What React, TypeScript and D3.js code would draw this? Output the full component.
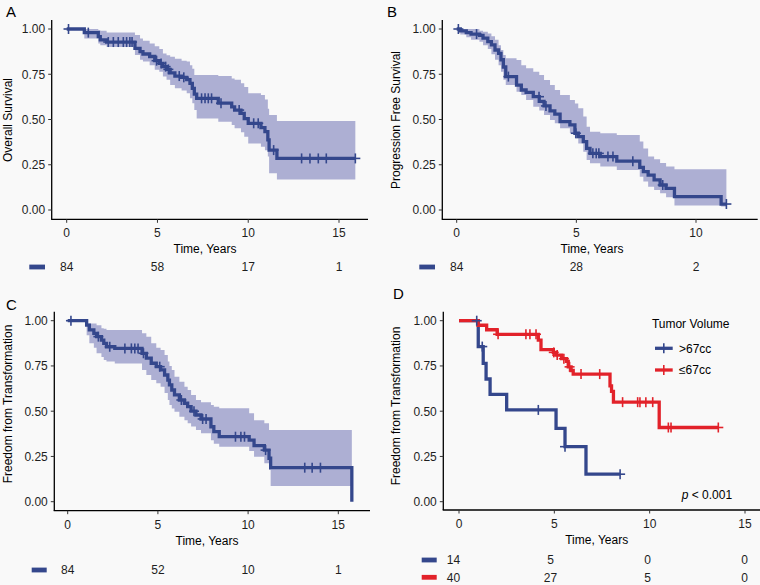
import React from "react";
import * as d3 from "d3";

const W = 760;
const H = 585;
const BLUE = "#34478c";
const BAND = "#adafd3";
const RED = "#e2222a";
const BG = "#f9f9f9";
const FONT = "'Liberation Sans', Arial, Helvetica, sans-serif";

// ---------- Panel A: Overall Survival ----------
const osTime = [0, 0.97, 1.74, 1.85, 2.2, 3.76, 4.04, 4.2, 4.57, 4.85, 5.1, 5.3, 5.5, 5.7, 5.96, 6.33, 6.61, 6.79, 6.92, 7.03, 7.16, 8.35, 9.09, 9.25, 9.6, 9.78, 10.0, 10.7, 10.92, 11.08, 11.15, 11.58];
const osSurv = [1, 0.98, 0.958, 0.94, 0.928, 0.893, 0.875, 0.862, 0.848, 0.825, 0.81, 0.792, 0.777, 0.758, 0.74, 0.733, 0.72, 0.7, 0.672, 0.64, 0.617, 0.59, 0.57, 0.552, 0.534, 0.505, 0.479, 0.455, 0.433, 0.387, 0.331, 0.285];
const osLower = [1, 0.948, 0.92, 0.91, 0.9, 0.856, 0.83, 0.82, 0.8, 0.775, 0.764, 0.737, 0.72, 0.69, 0.672, 0.66, 0.645, 0.617, 0.59, 0.552, 0.506, 0.488, 0.47, 0.451, 0.43, 0.405, 0.368, 0.35, 0.33, 0.295, 0.203, 0.168];
const osUpper = [1, 1, 0.995, 0.99, 0.98, 0.967, 0.948, 0.935, 0.92, 0.905, 0.89, 0.865, 0.855, 0.847, 0.835, 0.825, 0.82, 0.8, 0.78, 0.746, 0.746, 0.74, 0.727, 0.72, 0.7, 0.68, 0.645, 0.635, 0.61, 0.56, 0.525, 0.492];
const osCensor = [0.1, 1.19, 2.29, 2.57, 2.84, 3.12, 3.3, 3.48, 3.6, 4.95, 5.2, 5.45, 5.6, 6.2, 6.45, 7.43, 7.62, 7.8, 7.98, 8.5, 9.5, 10.3, 10.55, 11.4, 12.94, 13.4, 13.86, 14.3, 15.9];
const osEnd = 15.9;
const osRisk = ["84", "58", "17", "1"];

// ---------- Panel B: Progression Free Survival ----------
const pfsTime = [0, 0.15, 0.4, 0.6, 0.95, 1.1, 1.3, 1.45, 1.6, 1.75, 1.85, 1.95, 2.05, 2.5, 2.7, 2.9, 3.2, 3.45, 3.65, 3.9, 4.1, 4.32, 4.73, 4.94, 5.08, 5.29, 5.43, 5.57, 6.0, 6.69, 7.65, 7.8, 8.0, 8.25, 8.5, 8.75, 9.1, 11.05];
const pfsSurv = [1, 0.99, 0.98, 0.972, 0.965, 0.95, 0.93, 0.912, 0.884, 0.865, 0.83, 0.79, 0.737, 0.69, 0.663, 0.65, 0.626, 0.6, 0.575, 0.548, 0.53, 0.488, 0.47, 0.424, 0.405, 0.378, 0.34, 0.313, 0.295, 0.27, 0.235, 0.212, 0.193, 0.166, 0.138, 0.12, 0.074, 0.033];
const pfsLower = [1, 0.97, 0.955, 0.94, 0.93, 0.91, 0.89, 0.86, 0.83, 0.8, 0.764, 0.72, 0.69, 0.654, 0.635, 0.608, 0.571, 0.55, 0.525, 0.497, 0.479, 0.451, 0.424, 0.396, 0.368, 0.322, 0.276, 0.258, 0.24, 0.221, 0.184, 0.157, 0.129, 0.11, 0.092, 0.07, 0.025, 0.02];
const pfsUpper = [1, 1, 1, 1, 0.99, 0.985, 0.975, 0.96, 0.94, 0.91, 0.884, 0.856, 0.838, 0.829, 0.8, 0.783, 0.764, 0.746, 0.718, 0.69, 0.663, 0.635, 0.608, 0.589, 0.562, 0.516, 0.46, 0.433, 0.424, 0.414, 0.378, 0.34, 0.295, 0.28, 0.26, 0.24, 0.225, 0.225];
const pfsCensor = [0.07, 0.83, 2.16, 3.44, 3.73, 4.98, 5.69, 5.83, 5.94, 6.32, 6.53, 7.36, 8.61, 11.27];
const pfsEnd = 11.27;
const pfsRisk = ["84", "28", "2"];

// ---------- Panel C: Freedom from Transformation ----------
const fftTime = [0, 1.05, 1.2, 1.45, 1.6, 1.87, 2.0, 2.15, 2.61, 4.12, 4.36, 4.63, 4.91, 5.15, 5.37, 5.55, 5.64, 5.77, 5.92, 6.19, 6.47, 6.65, 6.84, 7.11, 7.39, 7.94, 8.1, 8.4, 10.06, 10.33, 10.9, 11.16, 11.25, 15.75];
const fftSurv = [1, 0.976, 0.949, 0.93, 0.912, 0.893, 0.875, 0.856, 0.847, 0.82, 0.793, 0.765, 0.746, 0.728, 0.7, 0.672, 0.645, 0.617, 0.59, 0.562, 0.544, 0.525, 0.5, 0.479, 0.457, 0.414, 0.387, 0.359, 0.34, 0.31, 0.285, 0.24, 0.188, 0];
const fftLower = [1, 0.92, 0.875, 0.85, 0.82, 0.8, 0.783, 0.775, 0.764, 0.727, 0.7, 0.672, 0.655, 0.635, 0.6, 0.562, 0.534, 0.515, 0.497, 0.47, 0.45, 0.433, 0.415, 0.396, 0.378, 0.34, 0.32, 0.304, 0.28, 0.249, 0.212, 0.175, 0.087, 0];
const fftUpper = [1, 0.985, 0.985, 0.985, 0.975, 0.958, 0.955, 0.948, 0.948, 0.93, 0.912, 0.875, 0.85, 0.838, 0.81, 0.774, 0.75, 0.727, 0.69, 0.663, 0.635, 0.617, 0.59, 0.562, 0.55, 0.534, 0.525, 0.516, 0.488, 0.45, 0.433, 0.396, 0.396, 0];
const fftCensor = [0.18, 1.7, 2.33, 3.17, 3.53, 3.72, 3.9, 4.2, 5.1, 6.3, 7.0, 7.48, 7.67, 9.3, 9.6, 9.8, 10.97, 13.14, 13.55, 14.01];
const fftEnd = 15.75;
const fftRisk = ["84", "52", "10", "1"];

// ---------- Panel D: by Tumor Volume ----------
const bigTime = [0, 1.01, 1.27, 1.42, 1.63, 2.5, 5.09, 5.56, 6.66];
const bigSurv = [1, 0.857, 0.764, 0.678, 0.593, 0.507, 0.405, 0.304, 0.152];
const bigCensor = [0.93, 1.22, 4.16, 5.56, 8.45];
const bigEnd = 8.45;
const bigRisk = ["14", "5", "0", "0"];

const smallTime = [0, 1.0, 1.45, 2.0, 4.16, 4.3, 4.95, 5.09, 5.38, 5.64, 5.73, 5.88, 5.99, 7.92, 8.0, 8.1, 10.5];
const smallSurv = [1, 0.975, 0.95, 0.925, 0.893, 0.84, 0.825, 0.81, 0.79, 0.775, 0.745, 0.725, 0.705, 0.64, 0.61, 0.55, 0.41];
const smallCensor = [2.05, 3.51, 3.72, 4.04, 4.97, 5.15, 5.5, 5.8, 6.4, 7.38, 8.58, 9.37, 9.49, 9.8, 10.16, 10.98, 11.12, 13.6];
const smallEnd = 13.6;
const smallRisk = ["40", "27", "5", "0"];

const yTicks = [0, 0.25, 0.5, 0.75, 1];
const yTickLabels = ["0.00", "0.25", "0.50", "0.75", "1.00"];
const riskTimes = [0, 5, 10, 15];

type Series = {
  time: number[];
  surv: number[];
  lower?: number[];
  upper?: number[];
  censor: number[];
  end: number;
  color: string;
  risk: string[];
};

type Layout = {
  letter: string;
  letterX: number;
  letterY: number;
  yTitle: string;
  yTitleX: number;
  yTitleY: number;
  xTicks: number[];
  tickMax: number;
  x0: number;
  xMax: number;
  axisLeft: number;
  axisRight: number;
  y1: number;
  y0: number;
  axisTop: number;
  axisBottom: number;
  xTitleX: number;
  riskY: number[];
  riskRect: [number, number];
  riskX0?: number;
  riskXMax?: number;
};

function survAt(s: Series, t: number) {
  let v = s.surv[0];
  for (let i = 0; i < s.time.length; i++) if (s.time[i] <= t) v = s.surv[i];
  return v;
}

function Panel({ L, series, children }: { L: Layout; series: Series[]; children?: React.ReactNode }) {
  const x = d3.scaleLinear().domain([0, L.tickMax]).range([L.x0, L.xMax]);
  const y = d3.scaleLinear().domain([0, 1]).range([L.y0, L.y1]);
  const rx = d3
    .scaleLinear()
    .domain([0, 15])
    .range([L.riskX0 ?? x(0), L.riskXMax ?? x(15)]);
  const line = d3
    .line<[number, number]>()
    .x((d) => x(d[0]))
    .y((d) => y(d[1]))
    .curve(d3.curveStepAfter);
  const area = d3
    .area<[number, number, number]>()
    .x((d) => x(d[0]))
    .y0((d) => y(d[1]))
    .y1((d) => y(d[2]))
    .curve(d3.curveStepAfter);

  return (
    <g>
      <text x={L.letterX} y={L.letterY} fontSize={15} fill="#000">
        {L.letter}
      </text>
      {series.map((s, si) => {
        if (!s.lower || !s.upper) return null;
        const pts: [number, number, number][] = [];
        s.time.forEach((t, i) => {
          if (t < s.end) pts.push([t, s.lower![i], s.upper![i]]);
        });
        const last = pts[pts.length - 1];
        pts.push([s.end, last[1], last[2]]);
        return <path key={"b" + si} d={area(pts) || ""} fill={BAND} stroke="none" />;
      })}
      {series.map((s, si) => {
        const pts: [number, number][] = s.time.map((t, i) => [t, s.surv[i]]);
        pts.push([s.end, s.surv[s.surv.length - 1]]);
        return (
          <path key={"l" + si} d={line(pts) || ""} fill="none" stroke={s.color} strokeWidth={3.3} strokeLinejoin="miter" strokeLinecap="butt" />
        );
      })}
      {series.map((s, si) =>
        s.censor.map((c, ci) => {
          const cx = x(c);
          const cy = y(survAt(s, c));
          return (
            <g key={"c" + si + "-" + ci} stroke={s.color} strokeWidth={1.6}>
              <line x1={cx} x2={cx} y1={cy - 5} y2={cy + 5} />
              <line x1={cx - 5} x2={cx + 5} y1={cy} y2={cy} />
            </g>
          );
        })
      )}
      {/* axes */}
      <line x1={L.axisLeft} x2={L.axisLeft} y1={L.axisTop} y2={L.axisBottom} stroke="#000" strokeWidth={1.3} />
      <line x1={L.axisLeft - 0.6} x2={L.axisRight} y1={L.axisBottom} y2={L.axisBottom} stroke="#000" strokeWidth={1.3} />
      {yTicks.map((v, i) => (
        <g key={"yt" + i}>
          <line x1={L.axisLeft - 3.5} x2={L.axisLeft} y1={y(v)} y2={y(v)} stroke="#333" strokeWidth={1} />
          <text x={L.axisLeft - 6.5} y={y(v)} dy="0.36em" textAnchor="end" fontSize={12} fill="#1e1e1e">
            {yTickLabels[i]}
          </text>
        </g>
      ))}
      {L.xTicks.map((v, i) => (
        <g key={"xt" + i}>
          <line x1={x(v)} x2={x(v)} y1={L.axisBottom} y2={L.axisBottom + 3.5} stroke="#333" strokeWidth={1} />
          <text x={x(v)} y={L.axisBottom + 18} textAnchor="middle" fontSize={12} fill="#1e1e1e">
            {String(v)}
          </text>
        </g>
      ))}
      <text x={L.xTitleX} y={L.axisBottom + 34} textAnchor="middle" fontSize={12} fill="#000">
        Time, Years
      </text>
      <text
        transform={`translate(${L.yTitleX},${L.yTitleY}) rotate(-90)`}
        textAnchor="middle"
        dy="0.36em"
        fontSize={12}
        fill="#000"
      >
        {L.yTitle}
      </text>
      {/* risk table */}
      {series.map((s, si) => (
        <g key={"r" + si}>
          <rect x={L.riskRect[0]} y={L.riskY[si] - 2.4} width={L.riskRect[1] - L.riskRect[0]} height={4.8} fill={s.color} />
          {s.risk.map((r, ri) => (
            <text key={ri} x={rx(riskTimes[ri])} y={L.riskY[si]} dy="0.36em" textAnchor="middle" fontSize={12} fill="#1e1e1e">
              {r}
            </text>
          ))}
        </g>
      ))}
      {children}
    </g>
  );
}

const layoutA: Layout = {
  letter: "A", letterX: 6, letterY: 17,
  yTitle: "Overall Survival", yTitleX: 8, yTitleY: 120,
  xTicks: [0, 5, 10, 15], tickMax: 15, x0: 66.7, xMax: 339,
  axisLeft: 51.7, axisRight: 368, y1: 29, y0: 210, axisTop: 20, axisBottom: 219.3,
  xTitleX: 205, riskY: [267], riskRect: [29.3, 45],
};
const layoutB: Layout = {
  letter: "B", letterX: 387, letterY: 17,
  yTitle: "Progression Free Survival", yTitleX: 395.5, yTitleY: 120,
  xTicks: [0, 5, 10], tickMax: 10, x0: 456.7, xMax: 696,
  axisLeft: 442.3, axisRight: 757.7, y1: 29, y0: 210, axisTop: 20, axisBottom: 219.3,
  xTitleX: 592, riskY: [267], riskRect: [419.3, 435],
};
const layoutC: Layout = {
  letter: "C", letterX: 6, letterY: 309.5,
  yTitle: "Freedom from Transformation", yTitleX: 8, yTitleY: 404,
  xTicks: [0, 5, 10, 15], tickMax: 15, x0: 67.7, xMax: 338.3,
  axisLeft: 54.3, axisRight: 370, y1: 320.7, y0: 501.7, axisTop: 311.7, axisBottom: 510.7,
  xTitleX: 207, riskY: [570], riskRect: [31.7, 46.7],
};
const layoutD: Layout = {
  letter: "D", letterX: 393, letterY: 299,
  yTitle: "Freedom from Transformation", yTitleX: 395.5, yTitleY: 406,
  xTicks: [0, 5, 10, 15], tickMax: 15, x0: 459, xMax: 745,
  axisLeft: 443.3, axisRight: 760, y1: 320.7, y0: 501.7, axisTop: 311.7, axisBottom: 510,
  xTitleX: 596.7, riskY: [560, 577.3], riskRect: [421.7, 436.7], riskX0: 453.5, riskXMax: 744.5,
};

const seriesA: Series[] = [
  { time: osTime, surv: osSurv, lower: osLower, upper: osUpper, censor: osCensor, end: osEnd, color: BLUE, risk: osRisk },
];
const seriesB: Series[] = [
  { time: pfsTime, surv: pfsSurv, lower: pfsLower, upper: pfsUpper, censor: pfsCensor, end: pfsEnd, color: BLUE, risk: pfsRisk },
];
const seriesC: Series[] = [
  { time: fftTime, surv: fftSurv, lower: fftLower, upper: fftUpper, censor: fftCensor, end: fftEnd, color: BLUE, risk: fftRisk },
];
const seriesD: Series[] = [
  { time: bigTime, surv: bigSurv, censor: bigCensor, end: bigEnd, color: BLUE, risk: bigRisk },
  { time: smallTime, surv: smallSurv, censor: smallCensor, end: smallEnd, color: RED, risk: smallRisk },
];

const legendLabels = [">67cc", "\u226467cc"];
const legendColors = [BLUE, RED];

export default function App() {
  return (
    <svg
      width={W}
      height={H}
      viewBox={`0 0 ${W} ${H}`}
      style={{ position: "fixed", left: 0, top: 0, fontFamily: FONT }}
    >
      <rect x={0} y={0} width={W} height={H} fill={BG} />
      <Panel L={layoutA} series={seriesA} />
      <Panel L={layoutB} series={seriesB} />
      <Panel L={layoutC} series={seriesC} />
      <Panel L={layoutD} series={seriesD}>
        <text x={690.7} y={327.8} textAnchor="middle" fontSize={12} fill="#000">
          Tumor Volume
        </text>
        {legendLabels.map((lab, i) => {
          const ly = 348.3 + i * 21.7;
          return (
            <g key={lab}>
              <line x1={655} x2={672.7} y1={ly} y2={ly} stroke={legendColors[i]} strokeWidth={3.3} />
              <line x1={663.8} x2={663.8} y1={ly - 5} y2={ly + 5} stroke={legendColors[i]} strokeWidth={1.6} />
              <text x={679} y={ly} dy="0.36em" fontSize={12} fill="#000">
                {lab}
              </text>
            </g>
          );
        })}
        <text x={681.7} y={498.5} fontSize={12} fill="#000">
          <tspan fontStyle="italic">p</tspan>
          <tspan> &lt; 0.001</tspan>
        </text>
      </Panel>
    </svg>
  );
}
